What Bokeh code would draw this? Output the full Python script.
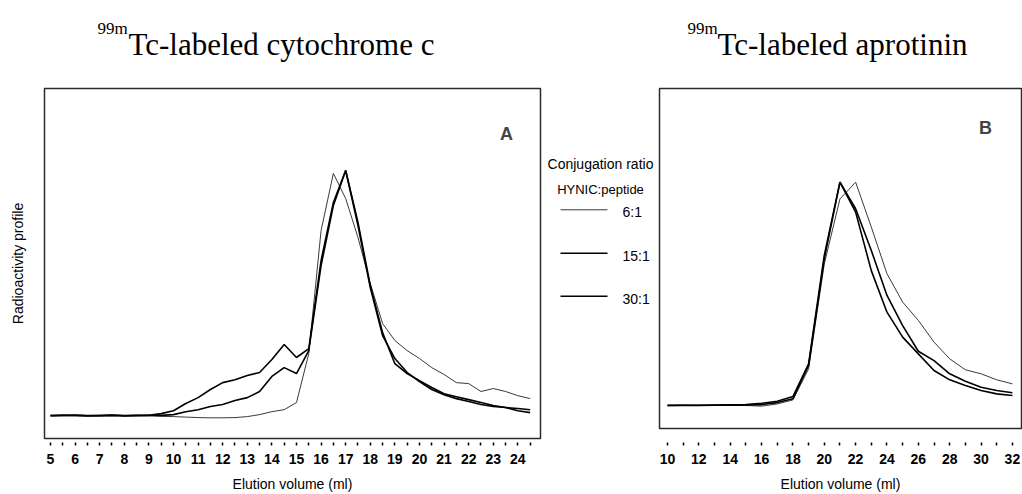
from bokeh.plotting import figure
from bokeh.layouts import row, column
from bokeh.models import Label, FixedTicker, Range1d
from bokeh.embed import file_html
from bokeh.resources import INLINE

# ---------------- data ----------------
# Panel A: 99mTc-labeled cytochrome c (elution volume, ml)
volume_a = [5.0, 5.5, 6.0, 6.5, 7.0, 7.5, 8.0, 8.5, 9.0, 9.5,
            10.0, 10.5, 11.0, 11.5, 12.0, 12.5, 13.0, 13.5, 14.0, 14.5,
            15.0, 15.5, 16.0, 16.5, 17.0, 17.5, 18.0, 18.5, 19.0, 19.5,
            20.0, 20.5, 21.0, 21.5, 22.0, 22.5, 23.0, 23.5, 24.0, 24.5]
cyt_6_1 = [0.4, 0.5, 0.6, 0.4, 0.4, 0.5, 0.4, 0.5, 0.4, 0.1,
           0.0, -0.2, -0.4, -0.5, -0.5, -0.4, 0.0, 0.8, 2.0, 2.8,
           5.7, 25.6, 75.6, 98.8, 88.6, 72.8, 54.1, 37.8, 30.9, 26.8,
           23.6, 19.9, 17.1, 13.8, 13.4, 10.2, 11.4, 10.2, 8.5, 7.3]
cyt_15_1 = [0.4, 0.5, 0.5, 0.3, 0.4, 0.5, 0.3, 0.4, 0.5, 0.5,
            0.8, 2.0, 2.8, 4.1, 4.9, 6.5, 7.7, 10.2, 16.3, 19.9,
            17.5, 26.8, 61.4, 85.8, 100.0, 78.9, 53.3, 34.1, 21.5, 17.5,
            14.6, 11.8, 9.3, 8.1, 6.9, 5.7, 4.5, 3.7, 2.4, 1.6]
cyt_30_1 = [0.4, 0.5, 0.5, 0.4, 0.4, 0.6, 0.4, 0.5, 0.5, 1.2,
            2.4, 5.3, 7.7, 11.0, 13.8, 15.0, 16.7, 17.9, 23.2, 29.3,
            24.0, 27.6, 63.4, 87.0, 100.0, 77.6, 52.4, 32.9, 23.6, 17.9,
            14.2, 11.0, 8.9, 7.3, 6.1, 4.9, 4.1, 3.7, 3.3, 2.8]

# Panel B: 99mTc-labeled aprotinin
volume_b = [10, 11, 12, 13, 14, 15, 16, 17, 18, 19, 20, 21,
            22, 23, 24, 25, 26, 27, 28, 29, 30, 31, 32]
apr_6_1 = [0.2, 0.2, 0.1, 0.1, 0.1, 0.0, -0.3, 0.7, 2.5, 16.4, 63.4, 92.5,
           100.0, 79.9, 59.0, 46.3, 38.1, 28.4, 20.9, 16.0, 14.2, 11.5, 9.7]
apr_15_1 = [0.0, 0.1, 0.1, 0.2, 0.3, 0.4, 1.0, 1.9, 4.0, 18.7, 67.2, 100.0,
            88.1, 69.4, 49.3, 35.8, 24.3, 20.1, 14.2, 10.9, 8.2, 6.7, 5.7]
apr_30_1 = [0.0, 0.0, 0.0, 0.1, 0.1, 0.2, 0.4, 1.3, 3.0, 17.9, 65.7, 100.0,
            86.6, 60.4, 41.8, 30.6, 23.1, 15.7, 11.5, 9.0, 6.7, 5.2, 4.5]

ticks_a = [5, 6, 7, 8, 9, 10, 11, 12, 13, 14, 15, 16, 17, 18, 19, 20, 21, 22, 23, 24]
minor_ticks_a = [5.5, 6.5, 7.5, 8.5, 9.5, 10.5, 11.5, 12.5, 13.5, 14.5, 15.5,
                 16.5, 17.5, 18.5, 19.5, 20.5, 21.5, 22.5, 23.5, 24.5]
ticks_b = [10, 12, 14, 16, 18, 20, 22, 24, 26, 28, 30, 32]
minor_ticks_b = [11, 13, 15, 17, 19, 21, 23, 25, 27, 29, 31]

ratio_labels = ["6:1", "15:1", "30:1"]

SANS = "Liberation Sans"
SERIF = "Liberation Serif"
THIN = dict(line_color="#3a3a3a", line_width=1.0)
THICK = dict(line_color="black", line_width=1.6)

TOP_H = 68      # height of the title strip
BT, BB = 20, 56  # shared top / bottom borders of the panel row


def style_axis(p, ticks, minor, tin, tout):
    ax = p.xaxis[0]
    ax.ticker = FixedTicker(ticks=ticks, minor_ticks=minor)
    ax.axis_line_color = None
    ax.major_tick_in = tin
    ax.major_tick_out = tout
    ax.minor_tick_in = tin
    ax.minor_tick_out = tout
    ax.major_tick_line_color = "black"
    ax.minor_tick_line_color = "black"
    ax.major_tick_line_width = 1.5
    ax.minor_tick_line_width = 1.5
    ax.major_label_text_font = SANS
    ax.major_label_text_font_size = "14px"
    ax.major_label_text_font_style = "bold"
    ax.major_label_text_color = "black"
    ax.major_label_standoff = 8
    ax.axis_label = "Elution volume (ml)"
    ax.axis_label_text_font = SANS
    ax.axis_label_text_font_size = "14px"
    ax.axis_label_text_font_style = "normal"
    ax.axis_label_text_color = "black"
    ax.axis_label_standoff = 9
    p.xgrid.grid_line_color = None
    p.ygrid.grid_line_color = None
    p.outline_line_color = "#2b2b2b"
    p.outline_line_width = 1.5


def blank(p):
    p.outline_line_color = None
    p.xgrid.grid_line_color = None
    p.ygrid.grid_line_color = None


def text(p, x, y, s, size, font=SANS, style="normal", align="center", baseline="middle"):
    p.add_layout(Label(x=x, y=y, text=s, text_font=font, text_font_size=size,
                       text_font_style=style, text_align=align, text_baseline=baseline,
                       text_color="black"))


# ---------------- title strip (page pixel coordinates, y downward) ----------------
top = figure(width=1022, height=TOP_H, x_range=Range1d(0, 1022), y_range=Range1d(TOP_H, 0),
             x_axis_location=None, y_axis_location=None, toolbar_location=None,
             min_border=0, output_backend="svg")
blank(top)
text(top, 97, 28, "99m", "17px", font=SERIF, align="left", baseline="alphabetic")
text(top, 128, 44, "Tc-labeled cytochrome c", "31px", font=SERIF, align="left", baseline="alphabetic")
text(top, 687, 28, "99m", "17px", font=SERIF, align="left", baseline="alphabetic")
text(top, 717, 44, "Tc-labeled aprotinin", "31px", font=SERIF, align="left", baseline="alphabetic")

# ---------------- panel A ----------------
pA = figure(frame_width=496, frame_height=350, min_border_left=44, min_border_right=4,
            min_border_top=BT, min_border_bottom=BB,
            x_range=Range1d(4.756, 24.92), y_range=Range1d(-8.9, 133.3),
            toolbar_location=None, output_backend="svg")
style_axis(pA, ticks_a, minor_ticks_a, -4, 7)
ya = pA.yaxis[0]
ya.ticker = FixedTicker(ticks=[])
ya.axis_line_color = None
ya.major_tick_in = 0
ya.major_tick_out = 0
ya.minor_tick_in = 0
ya.minor_tick_out = 0
ya.major_label_standoff = 0
ya.axis_label = "Radioactivity profile"
ya.axis_label_text_font = SANS
ya.axis_label_text_font_size = "14px"
ya.axis_label_text_font_style = "normal"
ya.axis_label_text_color = "black"
ya.axis_label_standoff = 19

pA.line(volume_a, cyt_6_1, **THIN)
pA.line(volume_a, cyt_15_1, **THICK)
pA.line(volume_a, cyt_30_1, **THICK)
pA.add_layout(Label(x=462, y=305, x_units="screen", y_units="screen", text="A",
                    text_font=SANS, text_font_size="18px", text_font_style="bold",
                    text_align="center", text_baseline="middle"))

# ---------------- legend strip (page pixel coordinates, y downward) ----------------
mid = figure(frame_width=112, frame_height=350, x_range=Range1d(544, 656),
             y_range=Range1d(438, 88), min_border_left=0, min_border_right=0,
             min_border_top=BT, min_border_bottom=BB,
             x_axis_location=None, y_axis_location=None, toolbar_location=None,
             output_backend="svg")
blank(mid)
key_y = [209.3, 252.7, 295.7]
mid.segment(x0=[560], y0=[key_y[0]], x1=[607], y1=[key_y[0]], **THIN)
mid.segment(x0=[560], y0=[key_y[1]], x1=[607], y1=[key_y[1]], **THICK)
mid.segment(x0=[560], y0=[key_y[2]], x1=[607], y1=[key_y[2]], **THICK)
for lab, ky in zip(ratio_labels, key_y):
    text(mid, 622, ky + 2.5, lab, "14px", align="left")
text(mid, 600, 163, "Conjugation ratio", "14px")
text(mid, 600, 189, "HYNIC:peptide", "13px")

# ---------------- panel B ----------------
pB = figure(frame_width=362, frame_height=340, min_border_left=3, min_border_right=1,
            min_border_top=BT, min_border_bottom=BB,
            x_range=Range1d(9.49, 32.58), y_range=Range1d(-10.3, 141.96),
            y_axis_location=None, toolbar_location=None, output_backend="svg")
style_axis(pB, ticks_b, minor_ticks_b, -14, 17)
pB.line(volume_b, apr_6_1, **THIN)
pB.line(volume_b, apr_15_1, **THICK)
pB.line(volume_b, apr_30_1, **THICK)
pB.add_layout(Label(x=326, y=301, x_units="screen", y_units="screen", text="B",
                    text_font=SANS, text_font_size="18px", text_font_style="bold",
                    text_align="center", text_baseline="middle"))

layout = column(top, row(pA, mid, pB, spacing=0), spacing=0)
open("out.html", "w").write(file_html(layout, INLINE))
